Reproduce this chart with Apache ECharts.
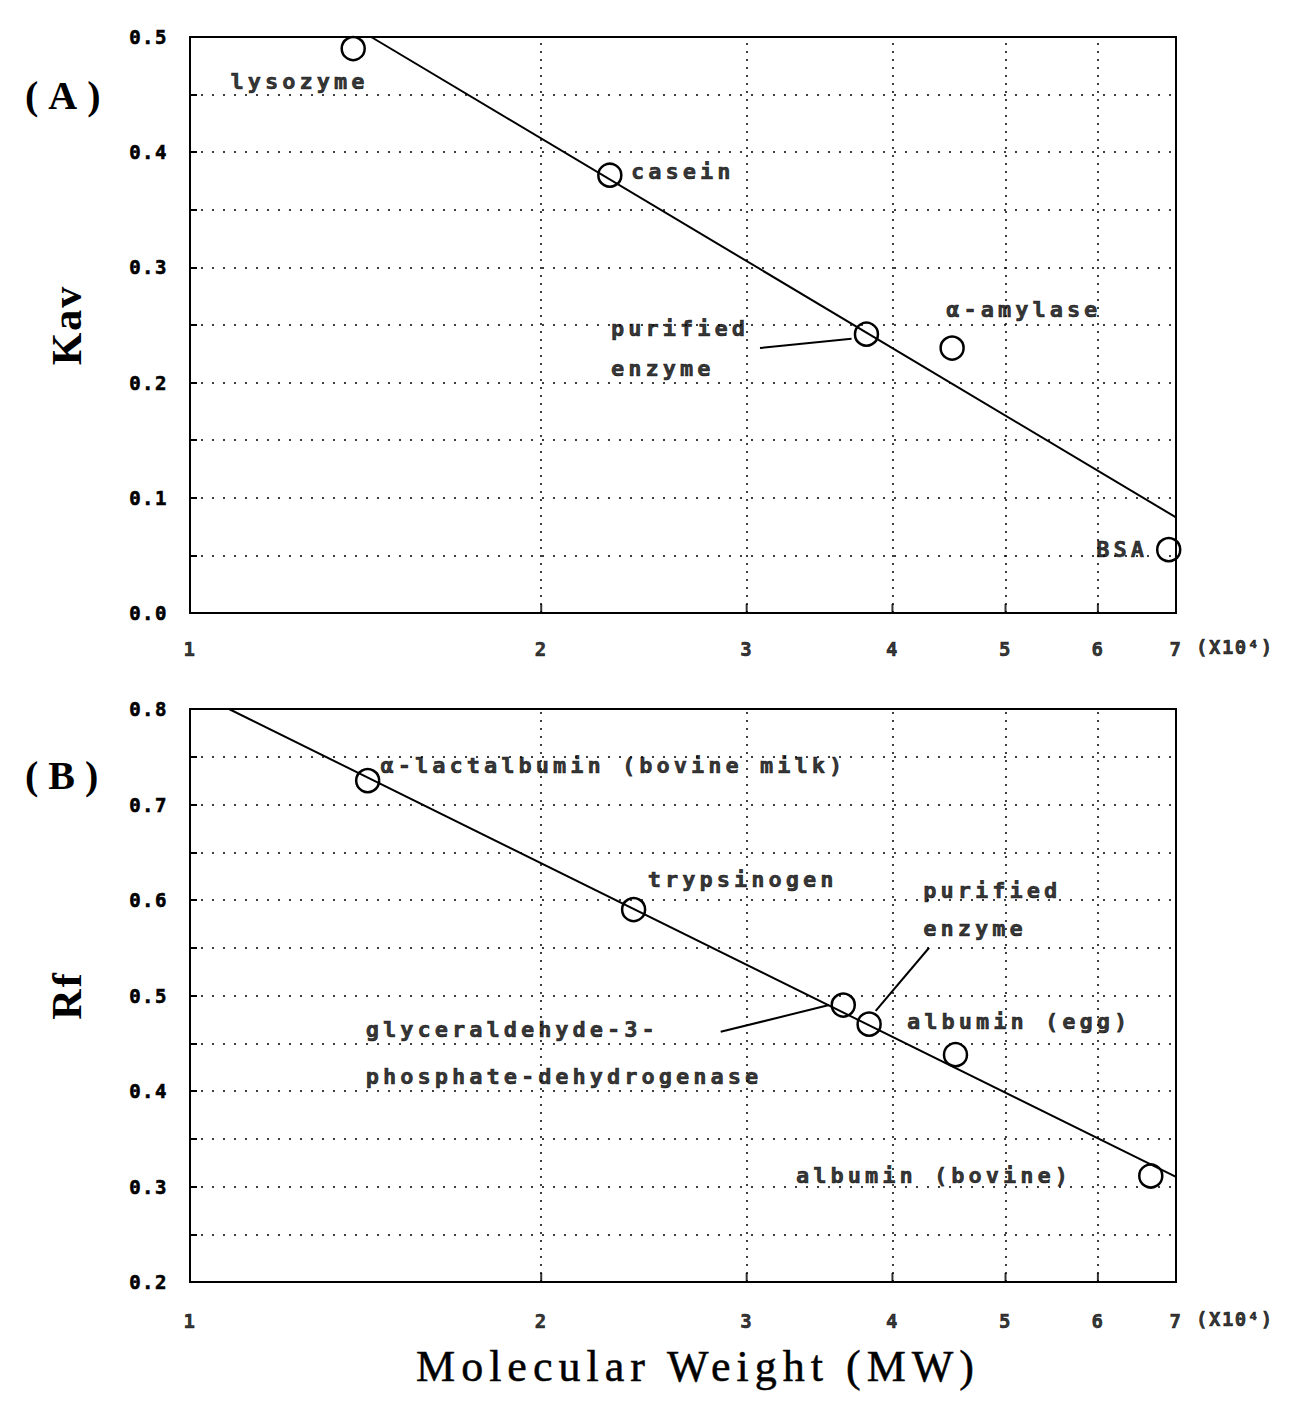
<!DOCTYPE html>
<html>
<head>
<meta charset="utf-8">
<script src="https://cdn.jsdelivr.net/npm/echarts@6/dist/echarts.min.js"></script>
<style>
html,body{margin:0;padding:0;background:#fff;}
#chart{width:1298px;height:1402px;}
</style>
</head>
<body>
<div id="chart"></div>
<script>
// ---------- data ----------
const xTickValues = [1, 2, 3, 4, 5, 6, 7];
const xGridValues = [2, 3, 4, 5, 6];
const xUnitLabel = '(X10⁴)';

// Panel A : gel filtration (Kav)
const aNames = ['lysozyme', 'casein', 'purified enzyme', 'α-amylase', 'BSA'];
const aMW = [1.38, 2.29, 3.80, 4.50, 6.90];
const aKav = [0.490, 0.380, 0.242, 0.230, 0.055];
const aFitMW = [1.43, 7];
const aFitKav = [0.500, 0.083];

// Panel B : electrophoresis (Rf)
const bNames = ['α-lactalbumin (bovine milk)', 'trypsinogen', 'glyceraldehyde-3-phosphate-dehydrogenase', 'purified enzyme', 'albumin (egg)', 'albumin (bovine)'];
const bMW = [1.42, 2.40, 3.63, 3.82, 4.53, 6.66];
const bRf = [0.725, 0.590, 0.490, 0.470, 0.438, 0.311];
const bFitMW = [1.08, 7];
const bFitRf = [0.800, 0.310];

// annotation anchors (data coordinates)
const aNotes = [
  {text: 'lysozyme', at: [1.082, 0.461]},
  {text: 'casein', at: [2.385, 0.383]},
  {text: 'purified\nenzyme', at: [2.293, 0.230], lh: 40},
  {text: 'α-amylase', at: [4.443, 0.2635]},
  {text: 'BSA', at: [5.975, 0.0548]}
];
const aLeaders = [[[3.08, 0.230], [3.69, 0.238]]];
const bNotes = [
  {text: 'α-lactalbumin (bovine milk)', at: [1.455, 0.741]},
  {text: 'trypsinogen', at: [2.466, 0.6216]},
  {text: 'purified\nenzyme', at: [4.246, 0.590], lh: 38},
  {text: 'albumin (egg)', at: [4.113, 0.4726]},
  {text: 'glyceraldehyde-3-\nphosphate-dehydrogenase', at: [1.413, 0.440], lh: 47},
  {text: 'albumin (bovine)', at: [3.304, 0.312]}
];
const bLeaders = [[[2.85, 0.4620], [3.53, 0.4900]], [[4.30, 0.5500], [3.87, 0.4840]]];

// ---------- styling ----------
const MONO = '"DejaVu Sans Mono", monospace';
const SERIF = '"Liberation Serif", "DejaVu Serif", serif';
const INK = '#000';

function zip(xs, ys) { return xs.map((x, i) => [x, ys[i]]); }

function yAxisFor(idx, min, max, name) {
  return {
    gridIndex: idx, type: 'value', min: min, max: max, interval: 0.05,
    name: name, nameLocation: 'middle', nameGap: 102, nameRotate: 90,
    nameTextStyle: {fontFamily: SERIF, fontWeight: 'bold', fontSize: 42, color: INK},
    axisLine: {show: true, lineStyle: {color: INK, width: 2}},
    axisTick: {show: true, inside: true, length: 7, lineStyle: {color: INK, width: 2}},
    axisLabel: {
      color: INK, fontFamily: MONO, fontWeight: 'bold', fontSize: 19, margin: 22,
      textBorderColor: INK, textBorderWidth: 0.6,
      formatter: v => (Math.abs(Math.round(v * 100)) % 10 === 0 ? v.toFixed(1) : '')
    },
    splitLine: {show: true, lineStyle: {color: INK, width: 1.5, type: [2, 9]}}
  };
}

function xAxisFor(idx, name) {
  return {
    gridIndex: idx, type: 'log', logBase: 10, min: 1, max: 7,
    name: name || '', nameLocation: 'middle', nameGap: 62,
    nameTextStyle: {fontFamily: SERIF, fontSize: 44, color: INK, textBorderColor: INK, textBorderWidth: 0.5,
                    padding: [0, 0, 0, 30]},
    axisLine: {show: true, lineStyle: {color: INK, width: 2}},
    axisTick: {show: false}, axisLabel: {show: false},
    splitLine: {show: false}, minorTick: {show: false}
  };
}

function panelSeries(idx, names, mw, vals, fitX, fitY, notes, leaders, yMin, tickDist) {
  return [
    {
      type: 'line', xAxisIndex: idx, yAxisIndex: idx, data: zip(fitX, fitY),
      symbol: 'none', silent: true, z: 3,
      lineStyle: {color: INK, width: 2},
      markLine: {
        silent: true, symbol: 'none', label: {show: false}, animation: false,
        lineStyle: {color: INK, width: 1.5, type: [2, 6]},
        data: xGridValues.map(v => ({xAxis: v}))
      }
    },
    {
      type: 'scatter', xAxisIndex: idx, yAxisIndex: idx, silent: true, z: 4, clip: false,
      data: mw.map((x, i) => ({name: names[i], value: [x, vals[i]]})),
      symbol: 'circle', symbolSize: 23,
      itemStyle: {color: 'rgba(0,0,0,0)', borderColor: INK, borderWidth: 2.5, opacity: 1}
    },
    {
      type: 'scatter', xAxisIndex: idx, yAxisIndex: idx, silent: true, z: 4, clip: false,
      symbol: 'rect', symbolSize: [2, 9], symbolOffset: [0, -4.5],
      itemStyle: {color: INK},
      label: {show: true, position: 'bottom', distance: tickDist, color: INK,
              fontFamily: MONO, fontWeight: 'bold', fontSize: 19,
              textBorderColor: INK, textBorderWidth: 0.6},
      data: xTickValues.map(v => ({value: [v, yMin], label: {formatter: String(v)}})).concat([
        {value: [7, yMin], symbolSize: 0,
         label: {formatter: xUnitLabel, align: 'left', offset: [20, 0], distance: tickDist + 3}}
      ])
    },
    {
      type: 'scatter', xAxisIndex: idx, yAxisIndex: idx, silent: true, z: 5, clip: false,
      symbolSize: 1, itemStyle: {color: 'rgba(0,0,0,0)'},
      label: {show: true, position: 'right', distance: 0, color: INK,
              fontFamily: MONO, fontWeight: 'bold', fontSize: 22, align: 'left',
              textBorderColor: INK, textBorderWidth: 0.6},
      data: notes.map(n => ({value: n.at, label: {formatter: n.text, lineHeight: n.lh || 26}})),
      markLine: {
        silent: true, symbol: 'none', label: {show: false}, animation: false,
        lineStyle: {color: INK, width: 2, type: 'solid'},
        data: leaders.map(([p, q]) => [{coord: p}, {coord: q}])
      }
    }
  ];
}

const chart = echarts.init(document.getElementById('chart'), null, {renderer: 'svg'});
chart.setOption({
  backgroundColor: '#fff',
  animation: false,
  title: [
    {text: '(A)', left: 20, top: 70, textStyle: {fontFamily: SERIF, fontWeight: 'bold', fontSize: 40, color: INK}},
    {text: '(B)', left: 20, top: 750, textStyle: {fontFamily: SERIF, fontWeight: 'bold', fontSize: 40, color: INK}}
  ],
  grid: [
    {left: 190, top: 37, width: 986, height: 576, show: true, borderColor: INK, borderWidth: 2, outerBoundsMode: 'none'},
    {left: 190, top: 709, width: 986, height: 573, show: true, borderColor: INK, borderWidth: 2, outerBoundsMode: 'none'}
  ],
  xAxis: [xAxisFor(0), xAxisFor(1, 'Molecular Weight (MW)')],
  yAxis: [yAxisFor(0, 0, 0.5, 'Kav'), yAxisFor(1, 0.2, 0.8, 'Rf')],
  series: [].concat(
    panelSeries(0, aNames, aMW, aKav, aFitMW, aFitKav, aNotes, aLeaders, 0, 26),
    panelSeries(1, bNames, bMW, bRf, bFitMW, bFitRf, bNotes, bLeaders, 0.2, 29)
  )
});

// letter spacing to mimic the wide typewriter-like lettering of the original
function spaceText() {
  const map = {19: 1.5, 22: 4, 40: 10, 42: 2, 44: 6};
  document.querySelectorAll('#chart text').forEach(t => {
    const fs = Math.round(parseFloat(getComputedStyle(t).fontSize));
    if (map[fs] !== undefined) t.style.letterSpacing = map[fs] + 'px';
  });
}
chart.on('finished', spaceText);
setTimeout(spaceText, 50);
</script>
</body>
</html>
